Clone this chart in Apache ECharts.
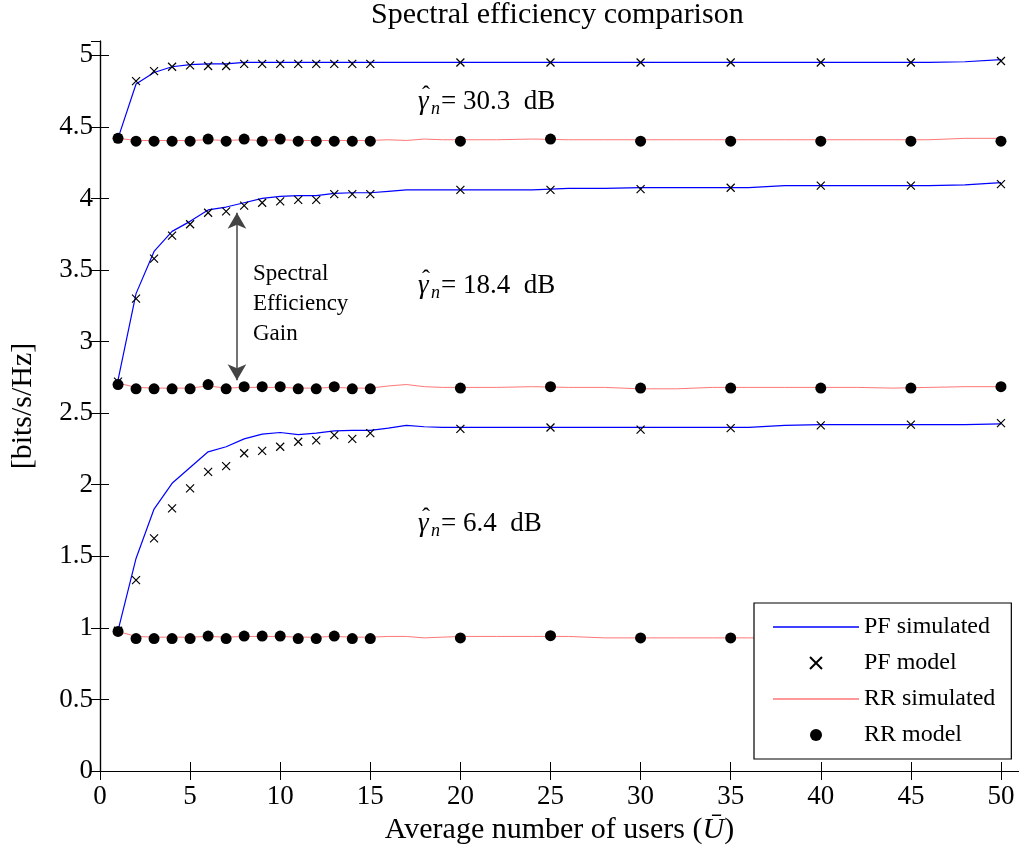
<!DOCTYPE html>
<html>
<head>
<meta charset="utf-8">
<script src="https://cdn.jsdelivr.net/npm/echarts@6/dist/echarts.min.js"></script>
<style>
html, body { margin: 0; padding: 0; background: #fff; }
#chart { width: 1019px; height: 856px; }
</style>
</head>
<body>
<div id="chart"></div>
<script>
// x positions
var modelX = [1,2,3,4,5,6,7,8,9,10,11,12,13,14,15,20,25,30,35,40,45,50];
var simX = [1,2,3,4,5,6,7,8,9,10,11,12,13,14,15,16,17,18,19,20,22,24,26,28,30,32,34,36,38,40,42,44,46,48,50];

// gamma = 30.3 dB
var pfSim30 = [4.42,4.80,4.88,4.92,4.935,4.94,4.94,4.95,4.95,4.95,4.95,4.95,4.95,4.95,4.95,4.95,4.95,4.95,4.95,4.95,4.95,4.95,4.95,4.95,4.95,4.95,4.95,4.95,4.95,4.95,4.95,4.95,4.95,4.955,4.97];
var pfMod30 = [4.42,4.82,4.89,4.92,4.93,4.925,4.925,4.94,4.94,4.94,4.94,4.94,4.94,4.94,4.94,4.95,4.95,4.95,4.95,4.95,4.95,4.96];
var rrSim30 = [4.42,4.405,4.405,4.405,4.405,4.41,4.405,4.41,4.405,4.41,4.405,4.405,4.405,4.405,4.405,4.41,4.405,4.415,4.41,4.41,4.41,4.415,4.41,4.41,4.41,4.41,4.41,4.41,4.41,4.41,4.41,4.41,4.41,4.42,4.42];
var rrMod30 = [4.42,4.40,4.40,4.40,4.40,4.415,4.40,4.415,4.40,4.415,4.40,4.40,4.40,4.40,4.40,4.40,4.415,4.40,4.40,4.40,4.40,4.40];

// gamma = 18.4 dB
var pfSim18 = [2.73,3.335,3.63,3.77,3.84,3.92,3.94,3.97,4.00,4.015,4.02,4.02,4.035,4.04,4.04,4.05,4.06,4.06,4.06,4.06,4.06,4.06,4.07,4.07,4.075,4.075,4.075,4.075,4.09,4.09,4.09,4.09,4.09,4.095,4.11];
var pfMod18 = [2.72,3.30,3.58,3.74,3.82,3.90,3.91,3.95,3.97,3.98,3.99,3.99,4.03,4.03,4.03,4.06,4.06,4.065,4.075,4.09,4.09,4.10];
var rrSim18 = [2.71,2.68,2.675,2.675,2.675,2.69,2.675,2.68,2.68,2.68,2.675,2.675,2.68,2.675,2.675,2.69,2.70,2.685,2.68,2.68,2.68,2.685,2.68,2.68,2.67,2.67,2.68,2.68,2.68,2.68,2.68,2.675,2.68,2.685,2.685];
var rrMod18 = [2.70,2.67,2.67,2.67,2.67,2.70,2.67,2.685,2.685,2.685,2.67,2.67,2.685,2.67,2.67,2.675,2.685,2.675,2.675,2.675,2.675,2.685];

// gamma = 6.4 dB
var pfSim6 = [0.98,1.485,1.83,2.01,2.12,2.23,2.265,2.32,2.353,2.365,2.35,2.36,2.376,2.38,2.38,2.395,2.415,2.405,2.40,2.40,2.40,2.40,2.40,2.40,2.40,2.40,2.40,2.40,2.415,2.42,2.42,2.42,2.42,2.42,2.425];
var pfMod6 = [0.98,1.334,1.625,1.835,1.974,2.09,2.13,2.22,2.237,2.265,2.30,2.31,2.346,2.32,2.36,2.39,2.40,2.385,2.395,2.415,2.42,2.43];
var rrSim6 = [0.975,0.94,0.935,0.935,0.935,0.94,0.935,0.94,0.94,0.94,0.935,0.935,0.94,0.935,0.935,0.94,0.94,0.93,0.935,0.94,0.94,0.94,0.94,0.93,0.93,0.93,0.93,0.93,0.93,0.93,0.93,0.93,0.93,0.93,0.93];
var rrMod6 = [0.975,0.925,0.925,0.925,0.925,0.943,0.925,0.943,0.943,0.943,0.925,0.925,0.943,0.925,0.925,0.93,0.945,0.93,0.93,0.93,0.93,0.935];

var xTicks = [0, 5, 10, 15, 20, 25, 30, 35, 40, 45, 50];
var yTicks = [0, 0.5, 1, 1.5, 2, 2.5, 3, 3.5, 4, 4.5, 5];
var gainArrow = [[7.6, 3.90], [7.6, 2.73]];

var FONT = 'Liberation Serif';
var crossPath = 'path://M0,0L10,10M10,0L0,10';
var lineIcon = 'path://M0,0L86,0L86,1.3L0,1.3Z';

function pairs(xs, ys) {
	return xs.map(function (x, i) { return [x, ys[i]]; });
}

function pfLine(ys) {
	return {
		name: 'PF simulated', type: 'line', data: pairs(simX, ys),
		showSymbol: false, symbol: 'none', z: 2,
		lineStyle: { color: '#0000ff', width: 1.2 },
		itemStyle: { color: '#0000ff' }
	};
}
function rrLine(ys) {
	return {
		name: 'RR simulated', type: 'line', data: pairs(simX, ys),
		showSymbol: false, symbol: 'none', z: 2,
		lineStyle: { color: '#ff7777', width: 1 },
		itemStyle: { color: '#ff7777' }
	};
}
function pfModel(ys) {
	return {
		name: 'PF model', type: 'scatter', data: pairs(modelX, ys),
		symbol: crossPath, symbolSize: 8, z: 3,
		itemStyle: { color: 'rgba(0,0,0,0)', borderColor: '#000', borderWidth: 1.2, opacity: 1 }
	};
}
function rrModel(ys) {
	return {
		name: 'RR model', type: 'scatter', data: pairs(modelX, ys),
		symbol: 'circle', symbolSize: 11, z: 3,
		itemStyle: { color: '#000', opacity: 1 }
	};
}

function gammaText(top, value) {
	return {
		type: 'group', left: 418, top: top, z: 10,
		children: [
			{ type: 'text', x: 0, y: 0, style: { text: 'γ', font: 'italic 27px "Liberation Serif"', fill: '#000' } },
			{ type: 'text', x: 4, y: -4, style: { text: 'ˆ', font: '24px "Liberation Serif"', fill: '#000' } },
			{ type: 'text', x: 13, y: 12, style: { text: 'n', font: 'italic 18px "Liberation Serif"', fill: '#000' } },
			{ type: 'text', x: 23, y: 0, style: { text: '= ' + value + '  dB', font: '27px "Liberation Serif"', fill: '#000' } }
		]
	};
}

var chart = echarts.init(document.getElementById('chart'));
var option = {
	backgroundColor: '#fff',
	animation: false,
	title: {
		text: 'Spectral efficiency comparison',
		left: 371, top: 0, padding: 0,
		textStyle: { fontFamily: FONT, fontSize: 30, fontWeight: 'normal', color: '#000' }
	},
	grid: { left: 99, right: -3, top: 41, bottom: 85, containLabel: false },
	legend: {
		data: [
			{ name: 'PF simulated', icon: lineIcon },
			{ name: 'PF model' },
			{ name: 'RR simulated', icon: lineIcon },
			{ name: 'RR model' }
		],
		orient: 'vertical',
		left: 754, top: 603, z: 20,
		padding: [12, 16, 12, 19],
		itemWidth: 86, itemHeight: 12, itemGap: 12,
		backgroundColor: '#fff', borderColor: '#000', borderWidth: 1.2,
		textStyle: { fontFamily: FONT, fontSize: 24, color: '#000' },
		selectedMode: false
	},
	xAxis: [{
		type: 'value', min: 0, max: 51, interval: 5,
		name: 'Average number of users ({i|Ū})',
		nameLocation: 'middle', nameGap: 40,
		nameTextStyle: {
			fontFamily: FONT, fontSize: 30, color: '#000',
			rich: { i: { fontFamily: FONT, fontStyle: 'italic', fontSize: 30, color: '#000' } }
		},
		axisLine: { show: true, lineStyle: { color: '#000', width: 1.2 } },
		axisTick: { show: true, inside: true, length: 9, lineStyle: { color: '#000' } },
		axisLabel: {
			fontFamily: FONT, fontSize: 27, color: '#000', margin: 12,
			showMaxLabel: false,
			formatter: function (v) { return xTicks.indexOf(v) >= 0 ? String(v) : ''; }
		},
		splitLine: { show: false }
	}, {
		type: 'value', min: 0, max: 51, interval: 5, position: 'top',
		axisLine: { show: true, lineStyle: { color: '#000', width: 1.2 } },
		axisTick: { show: true, inside: true, length: 9, lineStyle: { color: '#000' } },
		axisLabel: { show: false },
		splitLine: { show: false }
	}],
	yAxis: [{
		type: 'value', min: 0, max: 5.1, interval: 0.5,
		name: '[bits/s/Hz]',
		nameLocation: 'middle', nameGap: 62,
		nameTextStyle: { fontFamily: FONT, fontSize: 30, color: '#000' },
		axisLine: { show: true, lineStyle: { color: '#000', width: 1.2 } },
		axisTick: { show: true, inside: true, length: 9, lineStyle: { color: '#000' } },
		axisLabel: {
			fontFamily: FONT, fontSize: 27, color: '#000', margin: 7,
			showMaxLabel: false,
			formatter: function (v) { return yTicks.indexOf(v) >= 0 ? String(v) : ''; }
		},
		splitLine: { show: false }
	}, {
		type: 'value', min: 0, max: 5.1, interval: 0.5, position: 'right',
		axisLine: { show: true, lineStyle: { color: '#000', width: 1.2 } },
		axisTick: { show: true, inside: true, length: 9, lineStyle: { color: '#000' } },
		axisLabel: { show: false },
		splitLine: { show: false }
	}],
	graphic: [
		gammaText(84, '30.3'),
		gammaText(268, '18.4'),
		gammaText(506, '6.4'),
		{
			type: 'text', left: 253, top: 259, z: 10,
			style: {
				text: 'Spectral\nEfficiency\nGain',
				fontFamily: FONT, fontSize: 23, lineHeight: 30, fill: '#000'
			}
		}
	],
	series: [
		pfLine(pfSim30), rrLine(rrSim30),
		pfLine(pfSim18), rrLine(rrSim18),
		pfLine(pfSim6), rrLine(rrSim6),
		pfModel(pfMod30), rrModel(rrMod30),
		pfModel(pfMod18), rrModel(rrMod18),
		pfModel(pfMod6), rrModel(rrMod6),
		{
			name: 'gain', type: 'line', data: [], z: 4,
			markLine: {
				silent: true,
				symbol: ['arrow', 'arrow'],
				symbolSize: [14, 16],
				label: { show: false },
				lineStyle: { color: '#444', width: 1.5, type: 'solid' },
				data: [[{ coord: gainArrow[0] }, { coord: gainArrow[1] }]]
			}
		}
	]
};
chart.setOption(option);
</script>
</body>
</html>
